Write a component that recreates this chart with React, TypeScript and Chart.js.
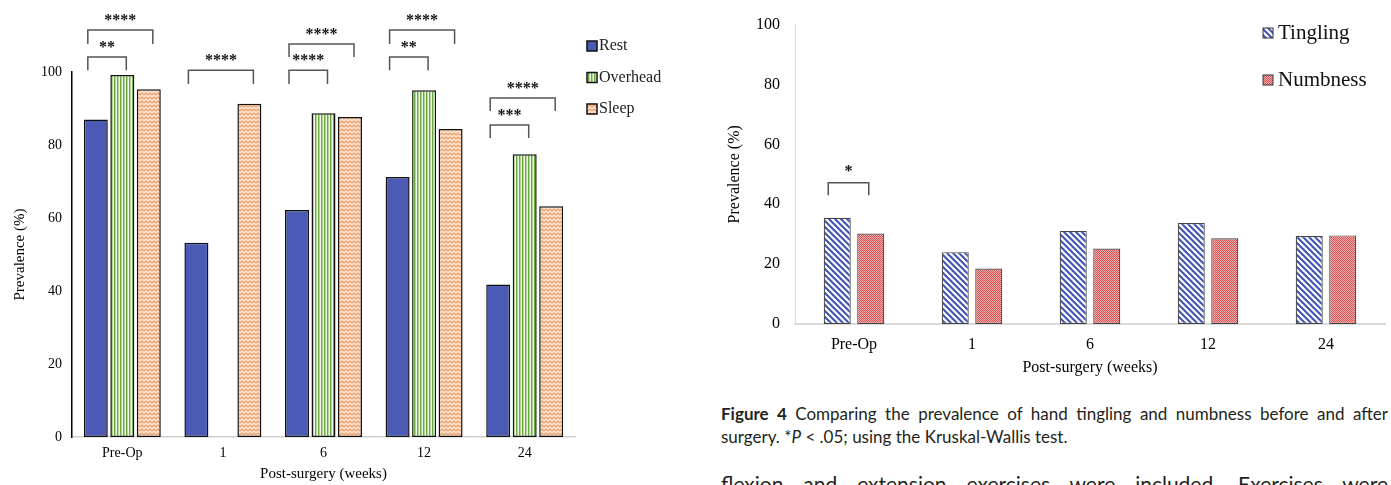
import React, { useEffect, useRef } from "react";
import { Chart, registerables } from "chart.js";

Chart.register(...registerables);

// ---------- Left chart: pain at rest / overhead / sleep ----------
const exerciseCategories = ["Pre-Op", "1", "6", "12", "24"];
const restValues = [87, 53.2, 62.2, 71.2, 41.8];
const overheadValues = [99.2, null, 88.7, 95, 77.5];
const sleepValues = [95.3, 91.3, 87.7, 84.4, 63.2];
const exerciseYTicks = [0, 20, 40, 60, 80, 100];
const exerciseSeriesLabels = ["Rest", "Overhead", "Sleep"];

// significance brackets: category index, series from/to, bracket top & leg end (value units), label
const exerciseBracketCats = [0, 0, 1, 2, 2, 3, 3, 4, 4];
const exerciseBracketFrom = [0, 0, 0, 0, 0, 0, 0, 0, 0];
const exerciseBracketTo = [2, 1, 2, 2, 1, 2, 1, 2, 1];
const exerciseBracketTop = [111.5, 104.1, 100.5, 107.7, 100.5, 111.5, 104.1, 92.9, 85.5];
const exerciseBracketEnd = [107.7, 100.5, 96.7, 104.1, 96.7, 107.7, 100.5, 89.3, 81.9];
const exerciseBracketLabels = ["****", "**", "****", "****", "****", "****", "**", "****", "***"];

// ---------- Right chart: tingling / numbness ----------
const sensationCategories = ["Pre-Op", "1", "6", "12", "24"];
const tinglingValues = [35.5, 24.0, 31.1, 33.7, 29.4];
const numbnessValues = [30.2, 18.5, 25.2, 28.6, 29.6];
const sensationYTicks = [0, 20, 40, 60, 80, 100];
const sensationSeriesLabels = ["Tingling", "Numbness"];

const sensationBracketCats = [0];
const sensationBracketFrom = [0];
const sensationBracketTo = [1];
const sensationBracketTop = [47.2];
const sensationBracketEnd = [43];
const sensationBracketLabels = ["*"];

const SERIF = "'Liberation Serif', 'Times New Roman', serif";

function buildBrackets(cats: number[], from: number[], to: number[], top: number[], end: number[], labels: string[]) {
  return cats.map((c, i) => ({ cat: c, from: from[i], to: to[i], top: top[i], end: end[i], label: labels[i] }));
}

function makePattern(w: number, h: number, draw: (g: CanvasRenderingContext2D) => void): CanvasPattern {
  const c = document.createElement("canvas");
  c.width = w;
  c.height = h;
  const g = c.getContext("2d")!;
  draw(g);
  return g.createPattern(c, "repeat")!;
}

const bracketPlugin = {
  id: "sigBrackets",
  afterDatasetsDraw(chart: any, _args: any, opts: any) {
    if (!opts || !opts.items) return;
    const ctx: CanvasRenderingContext2D = chart.ctx;
    const y = chart.scales.y;
    ctx.save();
    ctx.strokeStyle = opts.color;
    ctx.lineWidth = opts.lineWidth;
    ctx.fillStyle = opts.textColor;
    ctx.font = opts.font;
    ctx.textAlign = "center";
    ctx.textBaseline = "alphabetic";
    const items = opts.items as any[];
    for (let i = 0; i < items.length; i++) {
      const b = items[i];
      const ea = chart.getDatasetMeta(b.from).data[b.cat];
      const eb = chart.getDatasetMeta(b.to).data[b.cat];
      const xa = ea.x + opts.leftShift;
      const xb = eb.x + opts.rightShift;
      const yt = y.getPixelForValue(b.top);
      const ye = y.getPixelForValue(b.end);
      ctx.beginPath();
      ctx.moveTo(xa, ye);
      ctx.lineTo(xa, yt);
      ctx.lineTo(xb, yt);
      ctx.lineTo(xb, ye);
      ctx.stroke();
      ctx.fillText(b.label, (xa + xb) / 2, yt - opts.textLift);
    }
    ctx.restore();
  },
};

const boxLegendPlugin = {
  id: "boxLegend",
  afterDraw(chart: any, _args: any, opts: any) {
    if (!opts) return;
    const ctx: CanvasRenderingContext2D = chart.ctx;
    ctx.save();
    chart.data.datasets.forEach((ds: any, i: number) => {
      const cy = opts.y + i * opts.rowGap;
      const bx = opts.x;
      const by = cy - opts.box / 2;
      ctx.fillStyle = ds.backgroundColor;
      ctx.fillRect(bx, by, opts.box, opts.box);
      ctx.strokeStyle = opts.boxBorder;
      ctx.lineWidth = opts.boxBorderWidth;
      ctx.strokeRect(bx, by, opts.box, opts.box);
      ctx.fillStyle = opts.color;
      ctx.font = opts.font;
      ctx.textAlign = "left";
      ctx.textBaseline = "middle";
      ctx.fillText(ds.label, bx + opts.box + opts.gap, cy);
    });
    ctx.restore();
  },
};

export default function App() {
  const leftRef = useRef<HTMLCanvasElement | null>(null);
  const rightRef = useRef<HTMLCanvasElement | null>(null);

  useEffect(() => {
    const overheadPattern = makePattern(3, 4, (g) => {
      g.fillStyle = "#f1f8eb";
      g.fillRect(0, 0, 3, 4);
      g.fillStyle = "#6aa842";
      g.fillRect(0, 0, 1, 4);
      g.fillStyle = "#b3d697";
      g.fillRect(1, 0, 1, 4);
    });
    const sleepPattern = makePattern(4, 4, (g) => {
      g.fillStyle = "#fce2cf";
      g.fillRect(0, 0, 4, 4);
      g.strokeStyle = "#ec9a62";
      g.lineWidth = 1.1;
      g.beginPath();
      g.moveTo(0, 3);
      g.lineTo(2, 1);
      g.lineTo(4, 3);
      g.stroke();
    });
    const tinglingPattern = makePattern(6, 6, (g) => {
      g.fillStyle = "#ffffff";
      g.fillRect(0, 0, 6, 6);
      g.strokeStyle = "#3f52b4";
      g.lineWidth = 2;
      g.beginPath();
      g.moveTo(-1, -1);
      g.lineTo(7, 7);
      g.moveTo(-1, 5);
      g.lineTo(1, 7);
      g.moveTo(5, -1);
      g.lineTo(7, 1);
      g.stroke();
    });
    const numbnessPattern = makePattern(2, 2, (g) => {
      g.fillStyle = "#f2b0b0";
      g.fillRect(0, 0, 2, 2);
      g.fillStyle = "#da5050";
      g.fillRect(0, 0, 1, 1);
      g.fillRect(1, 1, 1, 1);
    });

    const left = new Chart(leftRef.current!, {
      type: "bar",
      data: {
        labels: exerciseCategories,
        datasets: [
          { label: exerciseSeriesLabels[0], data: restValues, backgroundColor: "#4a5ab5", borderColor: "#111", borderWidth: 1.5, borderSkipped: false },
          { label: exerciseSeriesLabels[1], data: overheadValues as any, backgroundColor: overheadPattern as any, borderColor: "#111", borderWidth: 1.5, borderSkipped: false },
          { label: exerciseSeriesLabels[2], data: sleepValues, backgroundColor: sleepPattern as any, borderColor: "#111", borderWidth: 1.5, borderSkipped: false },
        ],
      },
      options: {
        responsive: false,
        animation: false,
        events: [],
        layout: { padding: { left: 0, top: 72, right: 115, bottom: 0 } },
        datasets: { bar: { categoryPercentage: 0.79, barPercentage: 0.905 } },
        plugins: {
          legend: { display: false },
          tooltip: { enabled: false },
          sigBrackets: {
            items: buildBrackets(exerciseBracketCats, exerciseBracketFrom, exerciseBracketTo, exerciseBracketTop, exerciseBracketEnd, exerciseBracketLabels),
            color: "#555",
            lineWidth: 1.5,
            textColor: "#111",
            font: `bold 16px ${SERIF}`,
            leftShift: -8,
            rightShift: 4,
            textLift: 5,
          },
          boxLegend: {
            x: 587,
            y: 46,
            rowGap: 31.5,
            box: 10,
            gap: 2,
            boxBorder: "#111",
            boxBorderWidth: 1.5,
            color: "#222",
            font: `16px ${SERIF}`,
          },
        } as any,
        scales: {
          x: {
            grid: { display: false, drawTicks: false },
            border: { display: true, color: "#cfcfcf", width: 1.5 },
            ticks: { color: "#000", font: { family: SERIF, size: 14 }, padding: 7.6 },
            title: { display: true, text: "Post-surgery (weeks)", color: "#000", font: { family: SERIF, size: 15 }, padding: { top: 0, bottom: 2 } },
            afterFit: (s: any) => { s.height = 48; },
          },
          y: {
            min: 0,
            max: 100,
            grid: { display: false, drawTicks: false },
            border: { display: true, color: "#000", width: 1.5 },
            ticks: { color: "#000", font: { family: SERIF, size: 14 }, padding: 10 },
            afterBuildTicks: (axis: any) => { axis.ticks = exerciseYTicks.map((v) => ({ value: v })); },
            title: { display: true, text: "Prevalence (%)", color: "#000", font: { family: SERIF, size: 15 }, padding: { top: 11, bottom: 0 } },
            afterFit: (s: any) => { s.width = 72; },
          },
        },
      },
      plugins: [bracketPlugin, boxLegendPlugin],
    });

    const right = new Chart(rightRef.current!, {
      type: "bar",
      data: {
        labels: sensationCategories,
        datasets: [
          { label: sensationSeriesLabels[0], data: tinglingValues, backgroundColor: tinglingPattern as any, borderColor: "#444", borderWidth: 1.2, borderSkipped: false },
          { label: sensationSeriesLabels[1], data: numbnessValues, backgroundColor: numbnessPattern as any, borderColor: "#444", borderWidth: 1.2, borderSkipped: false },
        ],
      },
      options: {
        responsive: false,
        animation: false,
        events: [],
        layout: { padding: { left: 0, top: 19, right: 6, bottom: 0 } },
        datasets: { bar: { categoryPercentage: 0.568, barPercentage: 0.806 } },
        plugins: {
          legend: { display: false },
          tooltip: { enabled: false },
          sigBrackets: {
            items: buildBrackets(sensationBracketCats, sensationBracketFrom, sensationBracketTo, sensationBracketTop, sensationBracketEnd, sensationBracketLabels),
            color: "#555",
            lineWidth: 1.5,
            textColor: "#111",
            font: `bold 16px ${SERIF}`,
            leftShift: -9,
            rightShift: -2,
            textLift: 7,
          },
          boxLegend: {
            x: 563,
            y: 33,
            rowGap: 47,
            box: 10,
            gap: 5,
            boxBorder: "#333",
            boxBorderWidth: 1,
            color: "#111",
            font: `21px ${SERIF}`,
          },
        } as any,
        scales: {
          x: {
            grid: { display: false, drawTicks: false },
            border: { display: true, color: "#d9d9d9", width: 2 },
            ticks: { color: "#000", font: { family: SERIF, size: 16 }, padding: 11.4 },
            title: { display: true, text: "Post-surgery (weeks)", color: "#000", font: { family: SERIF, size: 16 }, padding: { top: 0, bottom: 2.4 } },
            afterFit: (s: any) => { s.height = 56; },
          },
          y: {
            min: 0,
            max: 100,
            grid: { display: false, drawTicks: false },
            border: { display: true, color: "#d9d9d9", width: 1 },
            ticks: { color: "#000", font: { family: SERIF, size: 16 }, padding: 15 },
            afterBuildTicks: (axis: any) => { axis.ticks = sensationYTicks.map((v) => ({ value: v })); },
            title: { display: true, text: "Prevalence (%)", color: "#000", font: { family: SERIF, size: 16 }, padding: { top: 25.4, bottom: 0 } },
            afterFit: (s: any) => { s.width = 95; },
          },
        },
      },
      plugins: [bracketPlugin, boxLegendPlugin],
    });

    return () => {
      left.destroy();
      right.destroy();
    };
  }, []);

  const captionFont = "Lato, 'Open Sans', sans-serif";

  return (
    <div style={{ position: "absolute", left: 0, top: 0, width: 1391, height: 485, overflow: "hidden", background: "#fff" }}>
      <canvas ref={leftRef} width={690} height={485} style={{ position: "absolute", left: 0, top: 0, width: 690, height: 485 }} />
      <canvas ref={rightRef} width={691} height={380} style={{ position: "absolute", left: 700, top: 0, width: 691, height: 380 }} />
      <div style={{ position: "absolute", left: 721, top: 402, width: 667, fontFamily: captionFont, fontSize: 17, lineHeight: "23px", color: "#231f20" }}>
        <div style={{ textAlign: "justify", textAlignLast: "justify" }}>
          <b>Figure 4</b> Comparing the prevalence of hand tingling and numbness before and after
        </div>
        <div>
          surgery. *<i>P</i> &lt; .05; using the Kruskal-Wallis test.
        </div>
      </div>
      <div style={{ position: "absolute", left: 721, top: 471, width: 667, fontFamily: captionFont, fontSize: 21, lineHeight: "25px", color: "#231f20", textAlign: "justify", textAlignLast: "justify" }}>
        flexion and extension exercises were included. Exercises were
      </div>
    </div>
  );
}
